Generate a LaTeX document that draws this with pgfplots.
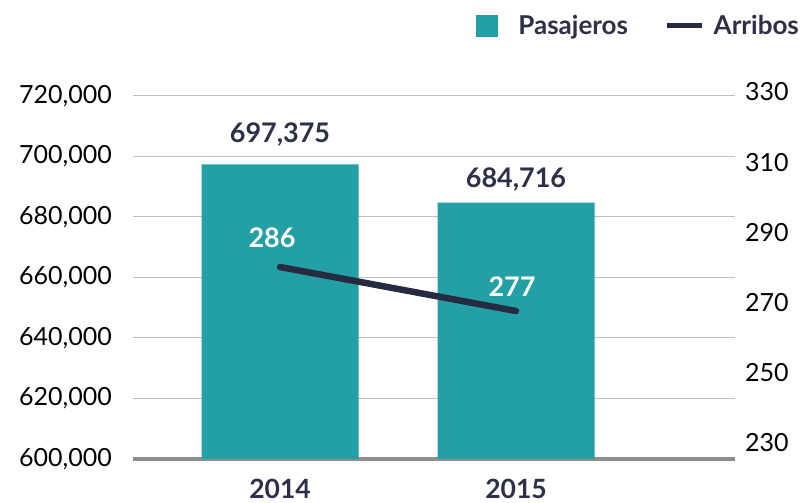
\documentclass[border=0pt]{standalone}
\usepackage{pgfplots}
\pgfplotsset{compat=1.18}
\usepackage{fontspec}
\setmainfont{Lato}
\definecolor{barteal}{HTML}{22A0A5}
\definecolor{navy}{HTML}{262B42}
\definecolor{labeldark}{HTML}{2D3047}
\definecolor{gridgray}{HTML}{C0C0C0}
\definecolor{basegray}{HTML}{8E8E8E}
\pgfplotsset{
  common/.style={
    scale only axis, anchor=south west,
    /pgf/number format/fixed,
    /pgf/number format/precision=0,
    /pgf/number format/1000 sep={,},
    /pgf/number format/assume math mode=true,
    scaled y ticks=false,
    major tick length=0pt,
    axis line style={draw=none},
  }
}
\begin{document}
\begin{tikzpicture}[x=1pt,y=1pt]
\useasboundingbox (0,0) rectangle (801,503);
\begin{axis}[common,
  width=602pt, height=363pt, at={(133pt,44pt)},
  xmin=-0.623, xmax=1.928, ymin=600000, ymax=720000,
  ybar, bar width=157pt,
  xtick={0,1}, xticklabels={2014,2015},
  ytick={600000,620000,...,720000},
  ymajorgrids, grid style={gridgray, line width=1pt},
  extra y ticks={600000}, extra y tick labels={},
  extra y tick style={grid style={basegray, line width=3.5pt}},
  yticklabel style={font=\fontsize{25}{29}\selectfont, text=black, anchor=east, inner sep=0pt, xshift=-21pt},
  xticklabel style={font=\fontsize{26.5}{30}\selectfont\bfseries, text=labeldark, anchor=north, inner sep=0pt, yshift=-20pt},
  legend style={at={(0.57,1.193)}, anchor=west, draw=none, fill=none,
    legend columns=2, font=\fontsize{26}{30}\selectfont\bfseries, text=labeldark,
    inner sep=0pt, nodes={inner sep=0pt},
    /tikz/every even column/.append style={column sep=36pt}},
]
\addplot[fill=barteal, draw=none,
  legend image code/.code={\fill[barteal] (0pt,-11pt) rectangle (22pt,11pt); \path (42pt,0pt);},
  nodes near coords,
  visualization depends on={\thisrow{off}\as\myoff},
  nodes near coords style={font=\fontsize{27}{31}\selectfont\bfseries, text=labeldark, anchor=center, inner sep=0pt, yshift=\myoff pt}]
  table[x=x, y=y] {
x y off
0 697375 30
1 684716 23
};
\addlegendentry{Pasajeros}
\addlegendimage{legend image code/.code={\draw[navy, line width=5pt] (0pt,0pt) -- (35pt,0pt); \path (47pt,0pt);}}
\addlegendentry{Arribos}
\end{axis}
\begin{axis}[common,
  width=602pt, height=363pt, at={(133pt,44pt)},
  xmin=-0.623, xmax=1.928, ymin=246.73, ymax=320.98,
  hide axis]
\addplot[navy, line width=6.5pt, line cap=round, mark=none,
  nodes near coords,
  visualization depends on={\thisrow{off}\as\myoff},
  visualization depends on={\thisrow{xoff}\as\myxoff},
  nodes near coords style={font=\fontsize{27}{31}\selectfont\bfseries, text=white, anchor=center, inner sep=0pt, yshift=\myoff pt, xshift=\myxoff pt}]
  table[x=x, y=y] {
x y off xoff
0 286 29 -8
1 277 24 -4
};
\end{axis}
\begin{axis}[common,
  width=602pt, height=351pt, at={(133pt,60pt)},
  xmin=0, xmax=1, ymin=230, ymax=330,
  ytick={230,250,...,330},
  axis y line*=right, axis x line=none,
  yticklabel style={font=\fontsize{25}{29}\selectfont, text=black, anchor=west, inner sep=0pt, xshift=10pt},
]
\end{axis}
\end{tikzpicture}
\end{document}
